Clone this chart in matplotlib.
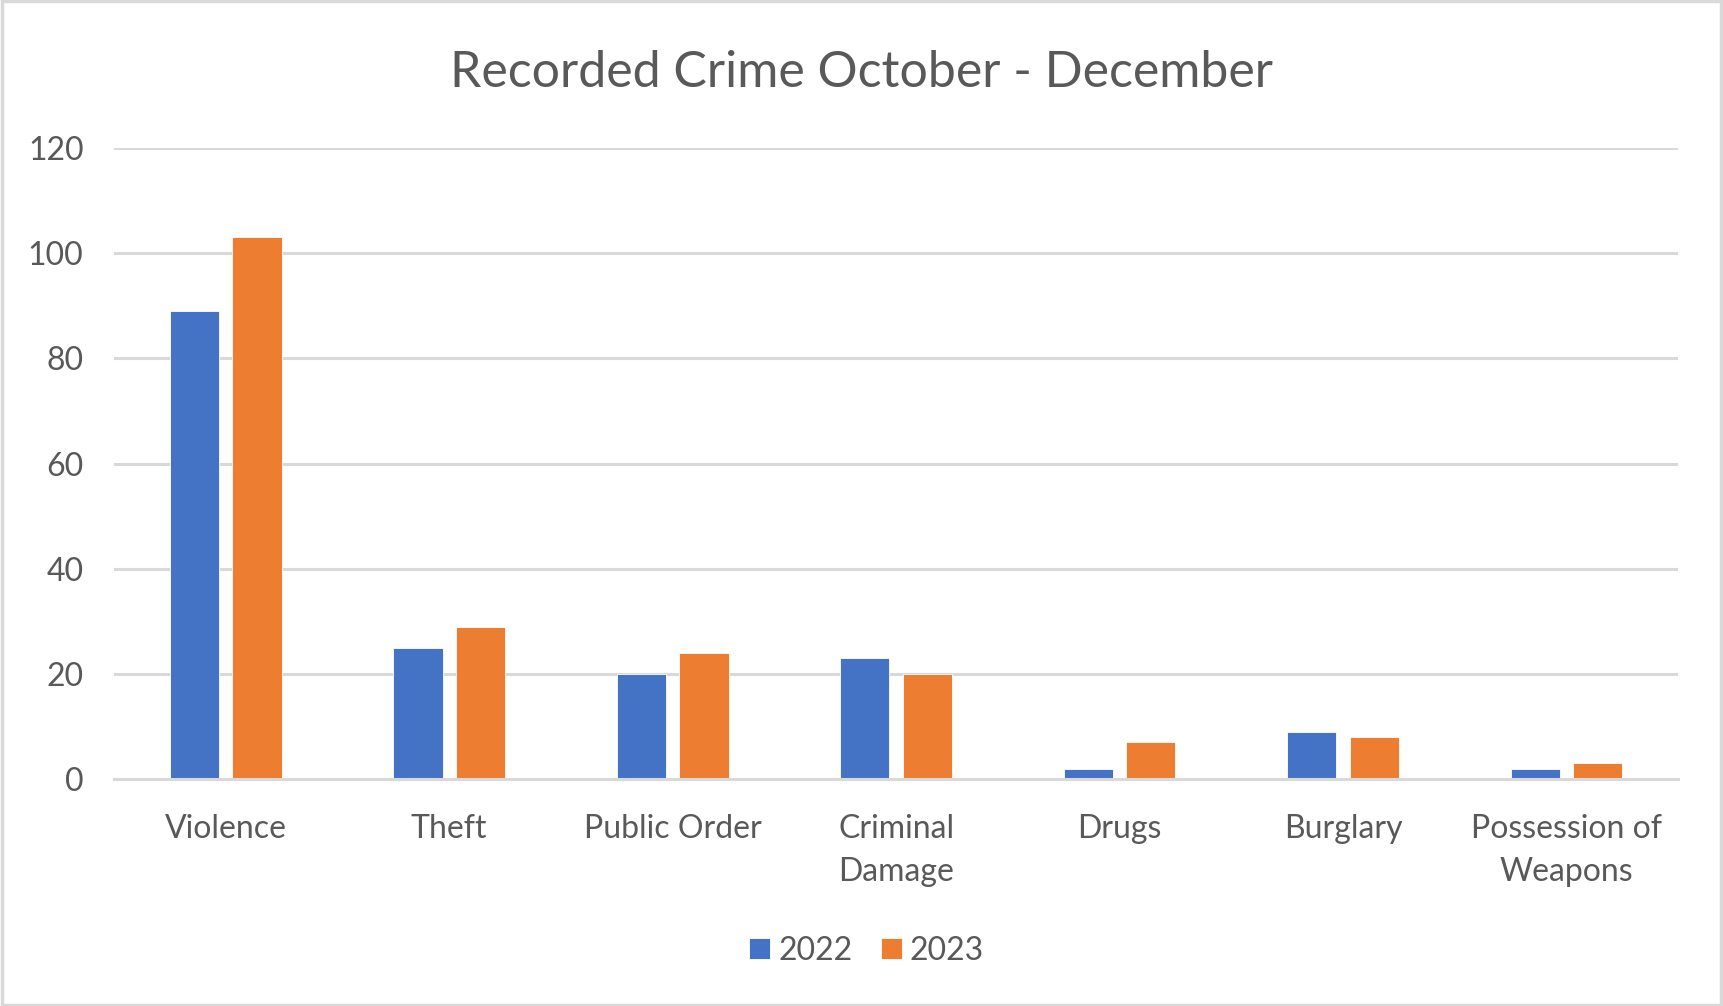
import matplotlib
matplotlib.use("Agg")
import matplotlib.pyplot as plt
from matplotlib.patches import Rectangle
import numpy as np

categories = ["Violence", "Theft", "Public Order", "Criminal\nDamage", "Drugs", "Burglary", "Possession of\nWeapons"]
values_2022 = [89, 25, 20, 23, 2, 9, 2]
values_2023 = [103, 29, 24, 20, 7, 8, 3]
series_names = ["2022", "2023"]
y_ticks = [0, 20, 40, 60, 80, 100, 120]

plt.rcParams['font.family'] = ['Lato', 'DejaVu Sans']
txt = '#595959'
grid = '#D9D9D9'

fig = plt.figure(figsize=(17.23, 10.06), dpi=100)
fig.patches.append(Rectangle((0.001, 0.001), 0.998, 0.998, transform=fig.transFigure,
                             fill=False, edgecolor='#D9D9D9', linewidth=2.5))
ax = fig.add_axes([0.0662, 0.2256, 0.9078, 0.6273])

x = np.arange(len(categories))
w = 0.22
off = 0.14
ax.bar(x - off, values_2022, w, color='#4472C4', edgecolor='white', linewidth=0.6, label=series_names[0], zorder=3)
ax.bar(x + off, values_2023, w, color='#ED7D31', edgecolor='white', linewidth=0.6, label=series_names[1], zorder=3)

ax.set_xlim(-0.5, len(categories) - 0.5)
ax.set_ylim(0, 120)
ax.set_yticks(y_ticks)
ax.set_yticklabels([str(v) for v in y_ticks], fontsize=23, color=txt)
ax.set_xticks(x)
ax.set_xticklabels(categories, fontsize=23, color=txt, linespacing=1.55)
ax.tick_params(axis='both', length=0)
ax.tick_params(axis='y', pad=22)
ax.tick_params(axis='x', pad=25)
for s in ['top', 'right', 'left']:
    ax.spines[s].set_visible(False)
ax.spines['bottom'].set_color(grid)
ax.spines['bottom'].set_linewidth(2.2)
ax.spines['bottom'].set_zorder(4)
ax.yaxis.grid(True, color=grid, linewidth=2.2, zorder=0)
ax.set_axisbelow(True)

fig.text(0.5, 0.927, "Recorded Crime October - December", ha='center', va='center', fontsize=36, color=txt)

fig.legend(loc='center', bbox_to_anchor=(0.503, 0.055), ncol=2, frameon=False, fontsize=23,
           handlelength=0.65, handleheight=0.65, handletextpad=0.25, columnspacing=0.9, labelcolor=txt)

fig.savefig("out.png", dpi=100)
